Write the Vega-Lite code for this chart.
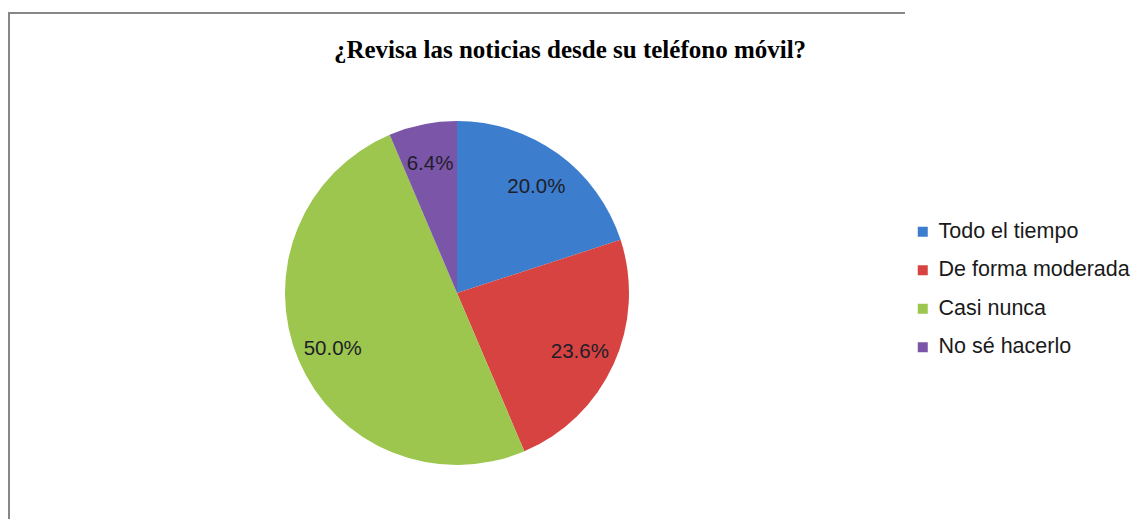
{
  "$schema": "https://vega.github.io/schema/vega-lite/v6.json",
  "autosize": "none",
  "width": 896,
  "height": 560,
  "padding": {"left": 9, "top": 13, "right": 234, "bottom": 0},
  "background": "white",
  "config": {
    "view": {"stroke": "#878787", "strokeWidth": 2, "strokeDash": [896, 560, 1500]}
  },
  "title": {
    "text": "¿Revisa las noticias desde su teléfono móvil?",
    "font": "Liberation Serif",
    "fontSize": 25,
    "fontWeight": "bold",
    "color": "#000000",
    "anchor": "middle",
    "frame": "group",
    "offset": -70,
    "baseline": "alphabetic",
    "dx": 113
  },
  "data": {
    "values": [
      {"categoria": "Todo el tiempo", "pct": 0.200, "idx": 1},
      {"categoria": "De forma moderada", "pct": 0.236, "idx": 2},
      {"categoria": "Casi nunca", "pct": 0.500, "idx": 3},
      {"categoria": "No sé hacerlo", "pct": 0.064, "idx": 4}
    ]
  },
  "encoding": {
    "x": {"datum": "pie", "type": "nominal", "axis": null},
    "y": {"datum": "pie", "type": "nominal", "axis": null},
    "theta": {"field": "pct", "type": "quantitative", "stack": true},
    "order": {"field": "idx", "type": "quantitative"}
  },
  "layer": [
    {
      "mark": {"type": "arc", "outerRadius": 172},
      "encoding": {
        "color": {
          "field": "categoria",
          "type": "nominal",
          "scale": {
            "domain": ["Todo el tiempo", "De forma moderada", "Casi nunca", "No sé hacerlo"],
            "range": ["#3c7dcd", "#d64340", "#9cc64d", "#7b55a7"]
          },
          "legend": {
            "title": null,
            "orient": "none",
            "legendX": 903,
            "legendY": 208,
            "symbolType": "square",
            "symbolSize": 100,
            "symbolStrokeWidth": 0,
            "symbolOpacity": 1,
            "labelFont": "Liberation Sans",
            "labelFontSize": 21.5,
            "labelColor": "#1a1a1a",
            "labelOffset": 5,
            "rowPadding": 15.5,
            "padding": 0,
            "labelLimit": 300
          }
        }
      }
    },
    {
      "mark": {"type": "text", "radius": 135, "dy": 3, "font": "Liberation Sans", "fontSize": 20.5, "color": "#1e1e2a"},
      "encoding": {
        "text": {"field": "pct", "type": "quantitative", "format": ".1%"}
      }
    }
  ]
}
